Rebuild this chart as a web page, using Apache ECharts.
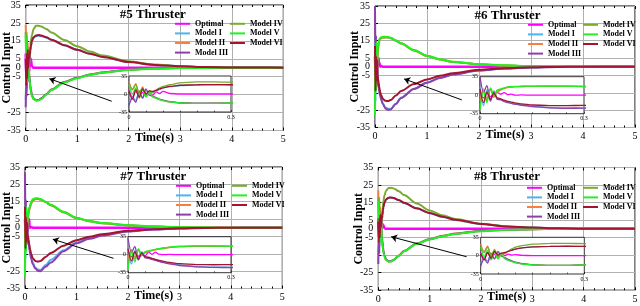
<!DOCTYPE html>
<html>
<head>
<meta charset="utf-8">
<script src="https://cdn.jsdelivr.net/npm/echarts@6/dist/echarts.min.js"></script>
<style>
html, body { margin: 0; padding: 0; background: #fff; }
#ChartDom { width: 640px; height: 306px; }
</style>
</head>
<body>
<div id="ChartDom"></div>
<script>
// sample times (s), shared by every series
const time = [0, 0.01, 0.02, 0.03, 0.04, 0.05, 0.06, 0.07, 0.08, 0.09, 0.1, 0.12, 0.15, 0.2, 0.25, 0.3, 0.4, 0.5, 0.75, 1, 1.25, 1.5, 2, 2.5, 3, 3.5, 4, 4.5, 5]

const seriesNames = ["Optimal", "Model I", "Model II", "Model III", "Model IV", "Model V", "Model VI"]
const seriesColors = ["#ff00ff", "#4db4f0", "#f7803f", "#8e3fae", "#77ac30", "#22f022", "#a2142f"]
const thrusterTitles = ["#5 Thruster", "#6 Thruster", "#7 Thruster", "#8 Thruster"]
const yTickLabels = [35, 25, 15, 5, 0, -5, -25, -35]

// #5 thruster
const t5Optimal = [8, -6, 5, -4, 3, -3, 2, -2, 4, 1, 5, 1, 0, 0, 0, 0, 0, 0, 0, 0, 0, 0, 0, 0, 0, 0, 0, 0, 0]
const t5ModelI = [-18, -6, -12, 4, -8, 7, -3, 4, 6, 9, 12, 14.5, 16.5, 17.6, 17.8, 17.6, 16.8, 15.5, 12.5, 10, 7.8, 6, 3.2, 1.6, 0.8, 0.4, 0.2, 0.1, 0]
const t5ModelII = [24, 10, 20, 0, 14, -4, 6, -6, -8, -11, -13, -15.5, -17.5, -18.2, -18, -17.2, -14.8, -12.2, -8, -5.6, -3.8, -2.6, -1.1, -0.4, -0.2, -0.1, 0, 0, 0]
const t5ModelIII = [-22, -8, -16, 6, -8, 10, -2, -4, -7, -10, -12, -15, -17, -18, -18, -17.2, -14.8, -12.2, -8, -5.6, -3.8, -2.6, -1.1, -0.4, -0.2, -0.1, 0, 0, 0]
const t5ModelIV = [20, 8, 18, 2, 12, -2, 6, 2, 8, 12, 15, 18, 21.5, 23.4, 23.4, 23, 21.6, 19.6, 15.5, 12, 9, 6.8, 3.6, 1.8, 0.8, 0.3, 0.1, 0, 0]
const t5ModelV = [18, 0, 12, -8, 8, -6, 4, -5, -8, -11, -13, -15.5, -17.3, -18.3, -18.2, -17.5, -15, -12.4, -8.2, -5.8, -3.9, -2.7, -1.2, -0.5, -0.2, -0.1, 0, 0, 0]
const t5ModelVI = [5, -10, 8, -6, 10, 0, 6, 5, 7, 10, 12, 15, 17, 18, 18.2, 18, 17, 15.6, 12.6, 10, 7.8, 6, 3.2, 1.6, 0.8, 0.4, 0.2, 0.1, 0]

// #6 thruster
const t6Optimal = [6, -5, 4, -3, 3, 5, 2, 5, 1, 2, 0, 0.5, 0, 0, 0, 0, 0, 0, 0, 0, 0, 0, 0, 0, 0, 0, 0, 0, 0]
const t6ModelI = [15, -20, 10, -12, 8, -6, -8, -11, -13, -15, -16.5, -18.5, -21, -23.5, -24.2, -24.3, -21.3, -17.8, -12.7, -9.1, -6.4, -4.4, -2.1, -1, -0.4, -0.2, -0.1, 0, 0]
const t6ModelII = [-10, 12, -6, 10, -4, 6, 10, 13, 14.5, 15.5, 16, 16.5, 16.8, 17, 17, 16.5, 15, 13.5, 9.5, 6.3, 4.2, 2.8, 1.4, 0.7, 0.3, 0.1, 0, 0, 0]
const t6ModelIII = [35, 5, 18, -10, 6, -8, -9, -12, -14, -15.5, -17, -19, -21.5, -24, -24.8, -24.6, -21.5, -18, -12.8, -9.2, -6.5, -4.5, -2.2, -1, -0.4, -0.2, -0.1, 0, 0]
const t6ModelIV = [-20, 8, -10, 12, -2, 8, 11, 13.5, 15, 15.8, 16.2, 16.5, 16.8, 16.9, 16.8, 16.4, 15, 13.4, 9.4, 6.2, 4.2, 2.8, 1.4, 0.7, 0.3, 0.1, 0, 0, 0]
const t6ModelV = [-28, 6, -14, 14, 0, 10, 12, 14, 15.5, 16.2, 16.6, 17, 17.2, 17.3, 17.1, 16.7, 15.2, 13.6, 9.6, 6.4, 4.3, 2.9, 1.5, 0.8, 0.3, 0.1, 0, 0, 0]
const t6ModelVI = [12, -14, 6, -8, 4, -5, -7, -9.5, -11.5, -13, -14.5, -16.5, -18.5, -19.6, -19.8, -19.2, -16.6, -14, -10, -7.3, -5.2, -3.7, -1.7, -0.8, -0.3, -0.1, 0, 0, 0]

// #7 thruster
const t7Optimal = [5, -4, 4, -3, 2, -2, 5, 1, 5, 1, 0, 0.5, 0, 0, 0, 0, 0, 0, 0, 0, 0, 0, 0, 0, 0, 0, 0, 0, 0]
const t7ModelI = [12, -18, 8, -10, 6, -4, -6, -8, -10, -12, -14, -17, -20, -23, -24, -24.3, -21.5, -18.5, -13, -8.5, -6, -4.2, -2, -0.9, -0.4, -0.2, -0.1, 0, 0]
const t7ModelII = [-8, 10, -5, 9, -2, 4, 6, 8, 9.5, 11, 12, 14, 15.6, 16.4, 16.5, 16.3, 14.8, 13, 9, 5.6, 3.8, 2.6, 1.4, 0.7, 0.3, 0.1, 0, 0, 0]
const t7ModelIII = [32, 4, 16, -10, 4, -6, -7, -9, -11, -13, -15, -18, -21, -23.5, -24.8, -25, -22.5, -20, -13.5, -9, -6.4, -4.5, -2.1, -1, -0.4, -0.2, -0.1, 0, 0]
const t7ModelIV = [-18, 8, -8, 10, -2, 5, 7, 8.5, 10, 11.5, 12.5, 14.3, 15.8, 16.5, 16.6, 16.3, 14.8, 13, 9, 5.6, 3.8, 2.6, 1.4, 0.7, 0.3, 0.1, 0, 0, 0]
const t7ModelV = [-28, 4, -14, 12, 0, 6, 7.5, 9, 10.5, 12, 13, 14.8, 16.4, 17, 17, 16.6, 15, 13.2, 9.2, 5.8, 3.9, 2.7, 1.5, 0.8, 0.3, 0.1, 0, 0, 0]
const t7ModelVI = [12, -12, 6, -8, 3, -4, -5, -7, -9, -11, -12.5, -15, -17.5, -19.2, -19.5, -19.2, -16.8, -14.5, -10.3, -7.2, -5.2, -3.7, -1.7, -0.8, -0.3, -0.1, 0, 0, 0]

// #8 thruster
const t8Optimal = [6, -5, 5, -4, 3, -2, 4, 0, 3, 1, 2, 0.5, 0, 0, 0, 0, 0, 0, 0, 0, 0, 0, 0, 0, 0, 0, 0, 0, 0]
const t8ModelI = [-15, -4, -10, 3, -6, 6, 0, 5, 8, 10.5, 12.5, 14.8, 16.6, 17.6, 17.8, 17.5, 16.3, 14.8, 11.6, 8.9, 6.8, 5.1, 2.7, 1.4, 0.7, 0.3, 0.1, 0, 0]
const t8ModelII = [22, 8, 18, -2, 12, -4, 4, -5, -8, -11, -13, -15.5, -17.6, -18.5, -18.4, -17.6, -15.2, -12.6, -8.3, -5.9, -4, -2.7, -1.2, -0.5, -0.2, -0.1, 0, 0, 0]
const t8ModelIII = [-20, -6, -14, 5, -6, 8, -1, -4, -7, -10, -12.5, -15.3, -17.4, -18.5, -18.5, -17.7, -15.3, -12.7, -8.4, -6, -4.1, -2.8, -1.2, -0.5, -0.2, -0.1, 0, 0, 0]
const t8ModelIV = [18, 6, 16, 1, 10, -1, 5, 4, 9, 13, 16, 19, 21.8, 23.3, 23.4, 23, 21.5, 19.3, 14.5, 10.5, 7.7, 5.6, 2.9, 1.4, 0.6, 0.2, 0.1, 0, 0]
const t8ModelV = [16, -2, 10, -8, 6, -6, 2, -6, -9, -11.5, -13.5, -16, -17.8, -18.7, -18.6, -17.8, -15.4, -12.8, -8.5, -6.1, -4.2, -2.9, -1.3, -0.5, -0.2, -0.1, 0, 0, 0]
const t8ModelVI = [4, -8, 6, -5, 8, 1, 5, 6, 8, 10.5, 12.5, 15, 16.8, 17.8, 17.9, 17.6, 16.4, 14.9, 11.7, 9, 6.9, 5.2, 2.8, 1.4, 0.7, 0.3, 0.1, 0, 0]

// annotation arrows, [time, value] from tail to head
const arrowFrom = [[1.67, -18.7], [1.67, -19.1], [1.72, -17.6], [1.72, -15.9]]
const arrowTo = [[0.46, -6.1], [0.56, -7], [0.54, -6.6], [0.25, -4.5]]

const panelValues = [
  [t5Optimal, t5ModelI, t5ModelII, t5ModelIII, t5ModelIV, t5ModelV, t5ModelVI],
  [t6Optimal, t6ModelI, t6ModelII, t6ModelIII, t6ModelIV, t6ModelV, t6ModelVI],
  [t7Optimal, t7ModelI, t7ModelII, t7ModelIII, t7ModelIV, t7ModelV, t7ModelVI],
  [t8Optimal, t8ModelI, t8ModelII, t8ModelIII, t8ModelIV, t8ModelV, t8ModelVI],
]

// layout
const font = "'Liberation Serif', 'Times New Roman', serif"
const mainBoxes = [
  { left: 25.7, top: 5, width: 257.6, height: 125.5 },
  { left: 375, top: 6, width: 260, height: 121.5 },
  { left: 25, top: 167, width: 257.3, height: 121.5 },
  { left: 378.3, top: 167.5, width: 256.7, height: 122.7 },
]
const insetBoxes = [
  { left: 129, top: 76, width: 102, height: 36 },
  { left: 480, top: 76.7, width: 104, height: 37 },
  { left: 128, top: 236.7, width: 103, height: 36 },
  { left: 480.7, top: 237.3, width: 103.6, height: 36.7 },
]
const legendPos = [[175, 230, 19], [528, 583, 20], [176, 232, 181], [527, 583, 183]]
const titlePos = [[152.7, 15], [507.5, 16], [153.3, 176.7], [507, 176.7]]
const yNameGap = [13, 14, 12.5, 13.5]

const gridLine = { show: true, lineStyle: { color: "#b0b0b0", width: 1 } }
const labelStyle = { fontFamily: font, fontSize: 10, color: "#000" }
const insetLabel = { fontFamily: font, fontSize: 6, color: "#000", margin: 2 }

const grids = []
const xAxes = []
const yAxes = []
const series = []
const legends = []
const titles = []

mainBoxes.forEach((b, p) => {
  grids[p] = Object.assign({ show: true, borderColor: "#000", borderWidth: 1, backgroundColor: "transparent", outerBoundsMode: "none", containLabel: false }, b)
  grids[4 + p] = Object.assign({ show: true, borderColor: "#000", borderWidth: 0.8, backgroundColor: "#fff", z: 5, outerBoundsMode: "none", containLabel: false }, insetBoxes[p])

  xAxes[p] = {
    type: "value", gridIndex: p, min: 0, max: 5, interval: 1,
    name: "Time(s)", nameLocation: "middle", nameGap: 1, nameMoveOverlap: false,
    nameTextStyle: { fontFamily: font, fontSize: 12, fontWeight: "bold", color: "#000" },
    axisLine: { show: false, onZero: false },
    axisTick: { inside: true, length: 3, lineStyle: { color: "#000" } },
    minorTick: { show: true, splitNumber: 5, length: 2, lineStyle: { color: "#000" } },
    axisLabel: Object.assign({ margin: 4 }, labelStyle),
    splitLine: gridLine,
  }
  xAxes[4 + p] = {
    type: "value", gridIndex: 4 + p, min: 0, max: 0.3, interval: 0.3, z: 6,
    axisLine: { show: false, onZero: false },
    axisTick: { inside: true, length: 2, lineStyle: { color: "#000", width: 0.6 } },
    minorTick: { show: true, splitNumber: 6, length: 1.5, lineStyle: { color: "#000", width: 0.6 } },
    axisLabel: insetLabel,
    splitLine: { show: false },
  }
  xAxes[8 + p] = {
    type: "value", gridIndex: p, position: "top", min: 0, max: 5, interval: 1,
    axisLine: { show: false, onZero: false },
    axisTick: { inside: true, length: 3, lineStyle: { color: "#000" } },
    minorTick: { show: true, splitNumber: 5, length: 2, lineStyle: { color: "#000" } },
    axisLabel: { show: false },
    splitLine: { show: false },
  }

  yAxes[p] = {
    type: "value", gridIndex: p, position: "left", min: -35, max: 35, interval: 10,
    name: "Control Input", nameLocation: "middle", nameGap: yNameGap[p], nameMoveOverlap: false,
    nameTextStyle: { fontFamily: font, fontSize: 12, fontWeight: "bold", color: "#000" },
    axisLine: { show: false, onZero: false },
    axisTick: { inside: true, length: 3, lineStyle: { color: "#000" } },
    axisLabel: Object.assign({ margin: 5, formatter: (v) => (yTickLabels.includes(v) ? String(v) : "") }, labelStyle),
    splitLine: gridLine,
  }
  yAxes[4 + p] = {
    type: "value", gridIndex: 4 + p, min: -35, max: 35, interval: 35, z: 6,
    axisLine: { show: false, onZero: false },
    axisTick: { show: false },
    axisLabel: insetLabel,
    splitLine: { show: false },
  }
  // extra axis that only carries the "0" label
  yAxes[8 + p] = {
    type: "value", gridIndex: p, position: "left", min: -35, max: 35, interval: 35,
    axisLine: { show: false, onZero: false },
    axisTick: { show: false },
    axisLabel: Object.assign({ margin: 5, formatter: (v) => (v === 0 && yTickLabels.includes(0) ? "0" : "") }, labelStyle),
    splitLine: { show: false },
  }

  titles.push({
    text: thrusterTitles[p], left: titlePos[p][0], top: titlePos[p][1] - 7, textAlign: "center", padding: 0,
    textStyle: { fontFamily: font, fontSize: 13, fontWeight: "bold", color: "#000", lineHeight: 14 },
  })

  const legendBase = {
    orient: "vertical", icon: "rect", itemWidth: 15, itemHeight: 2, itemGap: 0, padding: 0,
    selectedMode: false, top: legendPos[p][2],
    textStyle: { fontFamily: font, fontSize: 8, fontWeight: "bold", color: "#000", lineHeight: 9.6 },
  }
  legends.push(Object.assign({ left: legendPos[p][0], data: seriesNames.slice(0, 4) }, legendBase))
  legends.push(Object.assign({ left: legendPos[p][1], data: seriesNames.slice(4) }, legendBase))

  panelValues[p].forEach((vals, m) => {
    const pts = time.map((t, i) => [t, vals[i]])
    const main = {
      name: seriesNames[m], type: "line", xAxisIndex: p, yAxisIndex: p, data: pts,
      symbol: "none", smooth: 0.3, smoothMonotone: "x", silent: true, z: 2,
      itemStyle: { color: seriesColors[m] },
      lineStyle: { color: seriesColors[m], width: m === 0 ? 2.5 : 2 },
    }
    if (m === 0) {
      main.markLine = {
        silent: true, symbol: ["none", "arrow"], symbolSize: 6, animation: false,
        label: { show: false },
        lineStyle: { color: "#000", width: 1, type: "solid" },
        data: [[{ coord: arrowFrom[p] }, { coord: arrowTo[p] }]],
      }
    }
    series.push(main)
    series.push({
      name: seriesNames[m], type: "line", xAxisIndex: 4 + p, yAxisIndex: 4 + p, data: pts,
      symbol: "none", smooth: 0.3, smoothMonotone: "x", silent: true, z: 7,
      itemStyle: { color: seriesColors[m] },
      lineStyle: { color: seriesColors[m], width: 1.3 },
    })
  })
})

const chartDom = document.getElementById("ChartDom")
const myChart = echarts.init(chartDom, null, { renderer: "canvas" })
myChart.setOption({
  animation: false,
  backgroundColor: "#fff",
  title: titles,
  legend: legends,
  grid: grids,
  xAxis: xAxes,
  yAxis: yAxes,
  series: series,
})
</script>
</body>
</html>
